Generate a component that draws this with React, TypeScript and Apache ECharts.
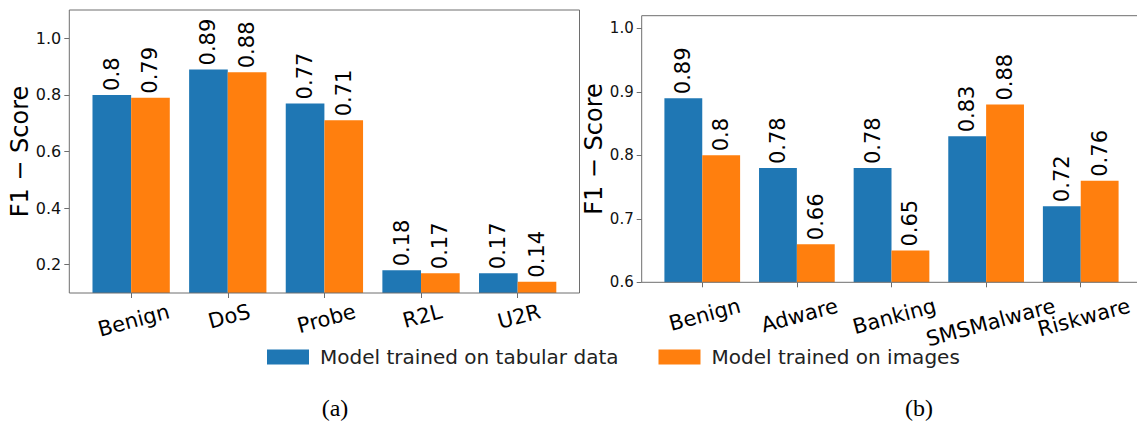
import React, { useEffect, useRef } from "react";
import * as echarts from "echarts";

const catsA = ["Benign", "DoS", "Probe", "R2L", "U2R"];
const tabA = [0.8, 0.89, 0.77, 0.18, 0.17];
const imgA = [0.79, 0.88, 0.71, 0.17, 0.14];
const ticksA = [0.2, 0.4, 0.6, 0.8, 1.0];

const catsB = ["Benign", "Adware", "Banking", "SMSMalware", "Riskware"];
const tabB = [0.89, 0.78, 0.78, 0.83, 0.72];
const imgB = [0.8, 0.66, 0.65, 0.88, 0.76];
const ticksB = [0.6, 0.7, 0.8, 0.9, 1.0];

const NAME_TAB = "Model trained on tabular data";
const NAME_IMG = "Model trained on images";
const BLUE = "#1f77b4";
const ORANGE = "#ff7f0e";
const SPINE = "#6e6e6e";
const FONT = "DejaVu Sans";
const XFS = 21;
const ROT = 15;

type Panel = { fl: number; fr: number; ft: number; fb: number };
const PA: Panel = { fl: 69.3, fr: 579.5, ft: 10, fb: 293 };
const PB: Panel = { fl: 641.7, fr: 1141.3, ft: 15.7, fb: 282.3 };

function gridOf(p: Panel) {
  const band = (p.fr - p.fl) / 5.28;
  const pad = 0.14 * band;
  return {
    grid: { left: p.fl + pad, top: p.ft, width: band * 5, height: p.fb - p.ft },
    pad,
  };
}

function textWidth(s: string, size: number, family: string) {
  const c = document.createElement("canvas");
  const ctx = c.getContext("2d");
  if (!ctx) return s.length * size * 0.6;
  ctx.font = `${size}px "${family}"`;
  return ctx.measureText(s).width;
}

export default function App() {
  const ref = useRef<HTMLDivElement>(null);
  useEffect(() => {
    document.body.style.margin = "0";
    if (!ref.current) return;
    const chart = echarts.init(ref.current, null, { renderer: "svg" });
    const ga = gridOf(PA);
    const gb = gridOf(PB);
    const tanR = Math.tan((ROT * Math.PI) / 180);

    // emulate matplotlib: rotated labels hang from a common top edge,
    // so longer labels sit lower; done with an invisible spacer line on top.
    const xAxis = (idx: number, cats: string[], margin: number) => {
      const rich: Record<string, any> = {
        t: { fontSize: XFS, fontFamily: FONT, color: "#000", lineHeight: 25 },
      };
      cats.forEach((c, i) => {
        rich["p" + i] = {
          fontSize: 1,
          lineHeight: Math.max(1, textWidth(c, XFS, FONT) * tanR),
          color: "transparent",
        };
      });
      return {
        type: "category",
        gridIndex: idx,
        data: cats,
        boundaryGap: true,
        axisLine: { show: false },
        axisTick: { show: true, alignWithLabel: true, length: 5, lineStyle: { color: SPINE } },
        axisLabel: {
          interval: 0,
          rotate: ROT,
          align: "center",
          verticalAlign: "middle",
          margin,
          fontSize: XFS,
          fontFamily: FONT,
          color: "#000",
          formatter: (v: string, i: number) => `{p${i}| }\n{t|${v}}`,
          rich,
        },
      };
    };

    const yAxis = (
      idx: number,
      min: number,
      max: number,
      ticks: number[],
      offset: number,
      fs: number,
      margin: number,
      gap: number
    ) => ({
      type: "value",
      gridIndex: idx,
      min,
      max,
      offset,
      splitLine: { show: false },
      axisLine: { show: false },
      axisTick: { show: true, length: 5, customValues: ticks, lineStyle: { color: SPINE } },
      axisLabel: {
        customValues: ticks,
        formatter: (v: number) => v.toFixed(1),
        fontSize: fs,
        fontFamily: FONT,
        color: "#111",
        margin,
      },
      name: "F1 \u2212 Score",
      nameLocation: "middle",
      nameGap: gap,
      nameTextStyle: { fontSize: 24, fontFamily: FONT, color: "#000" },
    });

    const barLabel = {
      show: true,
      position: "top",
      rotate: 90,
      align: "left",
      verticalAlign: "middle",
      distance: 4,
      fontSize: 21,
      fontFamily: FONT,
      color: "#000",
      formatter: (p: any) => String(p.value),
    };

    const bar = (name: string, data: number[], color: string, idx: number) => ({
      type: "bar",
      name,
      xAxisIndex: idx,
      yAxisIndex: idx,
      data,
      barGap: "0%",
      barCategoryGap: "20%",
      itemStyle: { color },
      label: barLabel,
    });

    const caption = (text: string, x: number) => ({
      type: "text",
      x,
      y: 408,
      style: {
        text,
        fontSize: 24,
        fontFamily: "Liberation Serif",
        fill: "#000",
        align: "center",
        verticalAlign: "middle",
      },
    });

    chart.setOption({
      animation: false,
      grid: [ga.grid, gb.grid],
      xAxis: [xAxis(0, catsA, 18), xAxis(1, catsB, 23)],
      yAxis: [
        yAxis(0, 0.1, 1.1, ticksA, ga.pad, 16, 8, 34),
        yAxis(1, 0.6, 1.02, ticksB, gb.pad, 15, 8, 36),
      ],
      legend: {
        data: [NAME_TAB, NAME_IMG],
        left: 262,
        top: 342,
        itemWidth: 42,
        itemHeight: 15,
        itemGap: 40,
        icon: "rect",
        textStyle: { fontSize: 20, fontFamily: FONT, color: "#222", padding: [0, 0, 0, 6] },
      },
      series: [
        bar(NAME_TAB, tabA, BLUE, 0),
        bar(NAME_IMG, imgA, ORANGE, 0),
        bar(NAME_TAB, tabB, BLUE, 1),
        bar(NAME_IMG, imgB, ORANGE, 1),
      ],
      graphic: [
        {
          type: "rect",
          z: 100,
          shape: { x: PA.fl, y: PA.ft, width: PA.fr - PA.fl, height: PA.fb - PA.ft },
          style: { fill: "none", stroke: SPINE, lineWidth: 1 },
          silent: true,
        },
        {
          type: "rect",
          z: 100,
          shape: { x: PB.fl, y: PB.ft, width: PB.fr - PB.fl, height: PB.fb - PB.ft },
          style: { fill: "none", stroke: SPINE, lineWidth: 1 },
          silent: true,
        },
        caption("(a)", 335),
        caption("(b)", 919),
      ],
    });
    return () => chart.dispose();
  }, []);
  return <div ref={ref} style={{ width: 1137, height: 424 }} />;
}
